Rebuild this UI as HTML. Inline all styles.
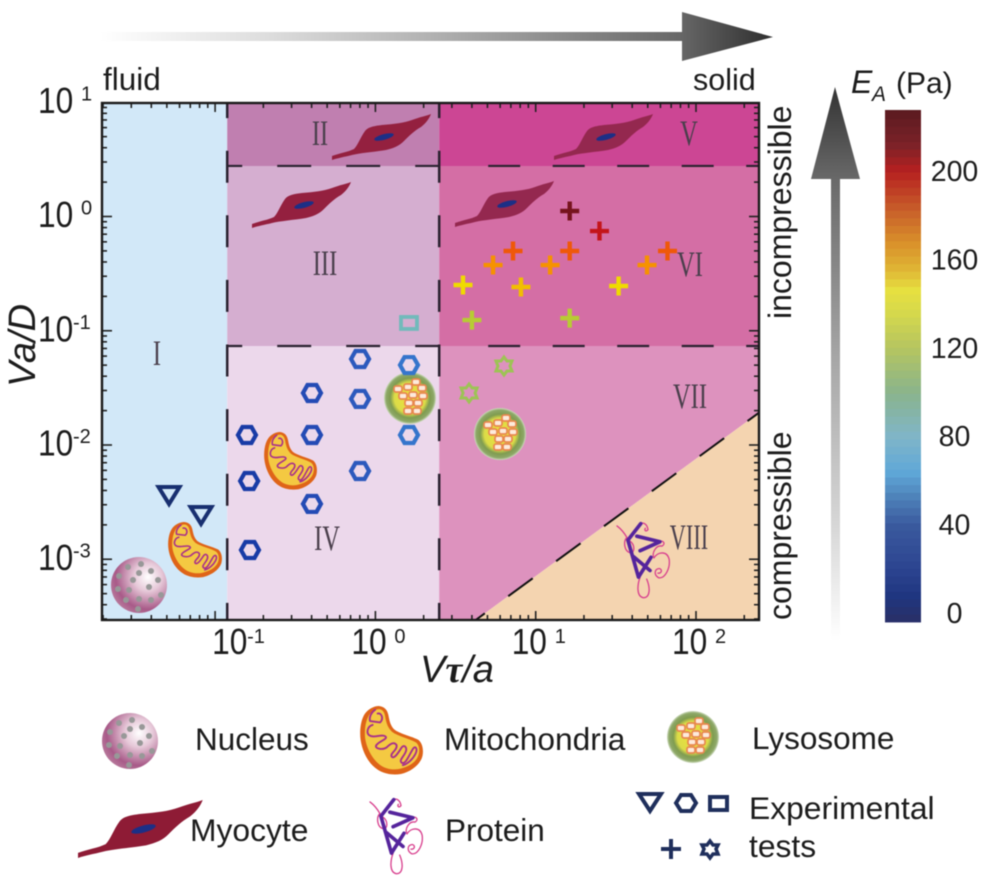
<!DOCTYPE html>
<html lang="en">
<head>
<meta charset="utf-8">
<title>Phase diagram of Va/D versus Vτ/a</title>
<style>
html,body{margin:0;padding:0;background:#fff;}
body{width:987px;height:883px;overflow:hidden;}
svg{display:block;filter:blur(.45px);}
text{font-family:"Liberation Sans",sans-serif;fill:#1c1c1c;}
.roman{font-family:"Liberation Serif",serif;font-size:36px;fill:#4a3f4c;text-anchor:middle;}
#markers{filter:saturate(1.45);}
</style>
</head>
<body>
<svg id="chart" xmlns="http://www.w3.org/2000/svg" width="987" height="883" viewBox="0 0 987 883">
<defs>
  <linearGradient id="grad-h" gradientUnits="userSpaceOnUse" x1="100" y1="0" x2="773" y2="0">
    <stop offset="0" stop-color="#fff"/><stop offset=".25" stop-color="#ddd"/><stop offset=".5" stop-color="#b0b0b0"/><stop offset=".86" stop-color="#686868"/><stop offset="1" stop-color="#2e2e2e"/>
  </linearGradient>
  <linearGradient id="grad-v" gradientUnits="userSpaceOnUse" x1="0" y1="87" x2="0" y2="640">
    <stop offset="0" stop-color="#333"/><stop offset=".17" stop-color="#6a6a6a"/><stop offset=".5" stop-color="#a8a8a8"/><stop offset=".8" stop-color="#d8d8d8"/><stop offset="1" stop-color="#fff"/>
  </linearGradient>
  <radialGradient id="grad-nuc" cx=".66" cy=".36" r=".72">
    <stop offset="0" stop-color="#fff"/><stop offset=".35" stop-color="#e6c8d8"/><stop offset=".8" stop-color="#a85a88"/><stop offset="1" stop-color="#b87a9c"/>
  </radialGradient>
  <radialGradient id="grad-lys" cx=".5" cy=".5" r=".5">
    <stop offset="0" stop-color="#eee23a"/><stop offset=".6" stop-color="#dcdc48"/><stop offset=".76" stop-color="#7f9c50"/><stop offset=".92" stop-color="#8ea868"/><stop offset="1" stop-color="#cfdcc0"/>
  </radialGradient>
  <g id="myocyte-shape">
    <path d="M0 46 L0 42 C8 39 16 38 22 35 C26 31 28 24 33 17 C36 13 42 12 50 11 C62 10 72 9 80 6 C88 3 94 2 99 0 C97 5 94 9 89 13 C82 17 77 22 72 27 C67 32 62 34 54 36 C42 38 28 39 20 41 C12 43 6 44 0 46 Z"/>
    <ellipse cx="52" cy="23" rx="10" ry="2.8" fill="#1c2f86" transform="rotate(-15 52 23)"/>
  </g>
  <g id="mito-shape">
    <path d="M30 0 C38 1 43 5 45 14 C47 24 48 30 54 37 C62 44 82 48 93 54 C100 60 101 72 99 80 C96 92 82 104 65 108 C52 110 38 108 28 101 C14 92 4 74 1 54 C-1 40 1 22 8 12 C13 5 22 0 30 0 Z" fill="#df6418"/>
    <path d="M31 5 C36 6 39 10 40 17 C42 28 44 34 51 41 C60 48 80 52 89 58 C95 63 95 73 92 80 C88 90 76 97 62 100 C50 102 38 99 30 92 C19 83 10 66 8 50 C7 36 9 24 14 15 C18 9 24 5 31 5 Z" fill="#f4c942"/>
    <path d="M24 6 C18 10 14 18 16 24 L32 26 C38 20 34 10 28 12 M20 30 C12 32 10 42 14 46 C22 52 34 44 40 48 C46 52 30 56 26 62 C22 68 36 70 42 66 C48 60 54 56 58 62 C60 70 48 74 50 80 C54 86 62 72 66 66 C70 60 76 66 72 74 C68 82 62 86 66 90 C72 94 78 78 84 68 C88 62 92 68 88 76 C84 84 76 92 68 94" fill="none" stroke="#a8308a" stroke-width="3" stroke-linejoin="round" stroke-linecap="round"/>
  </g>
  <g id="nucleus-shape">
    <circle cx="0" cy="0" r="28" fill="url(#grad-nuc)"/>
    <g fill="#989898">
      <circle cx="-11" cy="-18" r="3"/><circle cx="2" cy="-21" r="3"/><circle cx="-20" cy="-9" r="3"/><circle cx="0" cy="-12" r="3"/><circle cx="12" cy="-14" r="3"/><circle cx="19" cy="-5" r="3"/><circle cx="-6" cy="-5" r="3"/><circle cx="-21" cy="4" r="3"/><circle cx="-10" cy="5" r="3"/><circle cx="10" cy="2" r="3"/><circle cx="-13" cy="15" r="3"/><circle cx="0" cy="14" r="3"/><circle cx="12" cy="15" r="3"/><circle cx="22" cy="10" r="3"/><circle cx="-1" cy="24" r="3"/>
    </g>
  </g>
  <g id="lyso-shape">
    <circle cx="0" cy="0" r="26" fill="url(#grad-lys)"/>
    <g fill="#fdeadb" stroke="#e8874f" stroke-width="1.7">
      <rect x="-16" y="-12" width="8" height="6" rx="2"/><rect x="-11" y="-5" width="8" height="6" rx="2"/><rect x="-6" y="-14" width="8" height="6" rx="2"/><rect x="-1" y="-6" width="8" height="6" rx="2"/><rect x="2" y="-19" width="8" height="6" rx="2"/><rect x="8" y="-13" width="8" height="6" rx="2"/><rect x="9" y="-5" width="8" height="6" rx="2"/><rect x="-5" y="2" width="8" height="6" rx="2"/><rect x="4" y="2" width="8" height="6" rx="2"/><rect x="-6" y="10" width="8" height="6" rx="2"/><rect x="3" y="10" width="8" height="6" rx="2"/>
    </g>
  </g>
  <g id="protein-shape" fill="none" stroke-linecap="round" stroke-linejoin="round">
    <path d="M0 15 C12 24 22 36 30 50 C18 62 22 92 40 96 C54 98 56 72 38 60 M70 8 C84 2 92 14 94 26 C88 34 82 28 86 22 M130 62 C144 58 146 72 136 76 C118 72 104 98 112 112 C124 92 152 90 158 116 C162 142 146 176 126 172 C112 164 112 146 128 144 C138 146 136 160 124 158 M70 170 C62 192 58 226 78 232 C100 236 102 204 90 176" stroke="#d8408e" stroke-width="4"/>
    <path d="M72 8 L33 58 L65 170 L103 110 M60 46 L130 63 L70 90 M50 108 L100 150" stroke="#55249c" stroke-width="11"/>
  </g>
</defs>

<g id="top-arrow">
  <rect x="100" y="32" width="582" height="9" fill="url(#grad-h)"/>
  <polygon points="682,12 773,37 682,61" fill="url(#grad-h)"/>
</g>
<g id="side-arrow">
  <rect x="831" y="179" width="9" height="461" fill="url(#grad-v)"/>
  <polygon points="835,87 860,179 811,179" fill="url(#grad-v)"/>
</g>

<text x="103" y="90" font-size="31.5">fluid</text>
<text x="693" y="90" font-size="30.5">solid</text>
<text transform="translate(791,319) rotate(-90)" font-size="32">incompressible</text>
<text transform="translate(791,620) rotate(-90)" font-size="32">compressible</text>
<text transform="translate(35,387) rotate(-90)" font-size="38" font-style="italic">Va/D</text>
<text x="420" y="682" font-size="38" font-style="italic">V<tspan font-family="Liberation Serif,serif" font-weight="bold">τ</tspan>/a</text>

<g id="regions"></g>
<g id="ticks"></g>
<g id="boundaries"></g>

<g id="romans">
  <text class="roman" transform="translate(157,365) scale(.68,1)">I</text>
  <text class="roman" transform="translate(320,145) scale(.68,1)">II</text>
  <text class="roman" transform="translate(325,275) scale(.68,1)">III</text>
  <text class="roman" transform="translate(327,550) scale(.68,1)">IV</text>
  <text class="roman" transform="translate(689,145) scale(.68,1)">V</text>
  <text class="roman" transform="translate(690,276) scale(.68,1)">VI</text>
  <text class="roman" transform="translate(690,408) scale(.68,1)">VII</text>
  <text class="roman" transform="translate(689,549) scale(.62,1)">VIII</text>
</g>

<g id="plot-icons">
  <use href="#myocyte-shape" transform="translate(332,114)" fill="#94203f"/>
  <use href="#myocyte-shape" transform="translate(252,182)" fill="#94203f"/>
  <use href="#myocyte-shape" transform="translate(554,114)" fill="#94284f"/>
  <use href="#myocyte-shape" transform="translate(455,181)" fill="#94284f"/>
  <use href="#mito-shape" transform="translate(264,432) scale(.53)"/>
  <use href="#mito-shape" transform="translate(168,522) scale(.54,.51)"/>
  <use href="#nucleus-shape" transform="translate(139,585)"/>
  <use href="#lyso-shape" transform="translate(410,398)"/>
  <use href="#lyso-shape" transform="translate(500,434)"/>
  <use href="#protein-shape" transform="translate(617,521) scale(.33)"/>
</g>

<g id="markers"></g>
<g id="frame"></g>
<g id="tick-labels"></g>

<g id="colorbar"></g>
<text x="851" y="93" font-size="32" font-style="italic">E</text>
<text x="872" y="101" font-size="21" font-style="italic">A</text>
<text x="896" y="93" font-size="30">(Pa)</text>

<g id="legend">
  <use href="#nucleus-shape" transform="translate(130,741)"/>
  <text x="195" y="750" font-size="31.5">Nucleus</text>
  <use href="#mito-shape" transform="translate(360,706) scale(.63)"/>
  <text x="444" y="750" font-size="31.7">Mitochondria</text>
  <use href="#lyso-shape" transform="translate(693,737)"/>
  <text x="752" y="749" font-size="31.5">Lysosome</text>
  <use href="#myocyte-shape" transform="translate(78,800) scale(1.26)" fill="#8e1b35"/>
  <text x="190" y="841" font-size="31.8">Myocyte</text>
  <use href="#protein-shape" transform="translate(370,797) scale(.33)"/>
  <text x="445" y="841" font-size="31.5">Protein</text>
  <polygon points="639,794 661,794 650,811" fill="none" stroke="#1f2f5c" stroke-width="4"/>
  <polygon points="676,803 681,795 691,795 696,803 691,811 681,811" fill="none" stroke="#1f2f5c" stroke-width="4"/>
  <rect x="710" y="797" width="17" height="13" fill="none" stroke="#1f2f5c" stroke-width="4"/>
  <path d="M661 849H681M671 839V859" stroke="#1f2f5c" stroke-width="4" fill="none"/>
  <polygon points="710,841 713,845 718,845 716,849 718,854 713,854 710,858 707,854 702,854 704,849 702,845 707,845" fill="none" stroke="#1f2f5c" stroke-width="3.5"/>
  <text x="749" y="819" font-size="31.8">Experimental</text>
  <text x="749" y="857" font-size="31.8">tests</text>
</g>
</svg>

<script>
// ---- axis data ----
var xDecadeExponents = [-1, 0, 1, 2];
var yDecadeExponents = [1, 0, -1, -2, -3];
var colorbarTicks = [0, 40, 80, 120, 160, 200];
var minorMultipliers = [2, 3, 4, 5, 6, 7, 8, 9];

// ---- region boundaries (data coordinates) ----
var xFluidSolidBounds = [0.119, 2.5];
var yIncompressibleBounds = [2.77, 0.0735];
var compressibleLineX = [4.24, 245];
var compressibleLineY = [0.000295, 0.0190];

// ---- series: Vτ/a, Va/D, E_A (Pa) ----
var triangleX = [0.0516, 0.0817];
var triangleY = [0.00365, 0.00244];
var triangleE = [4, 4];

var hexagonX = [0.158, 0.163, 0.165, 0.402, 0.402, 0.402, 0.802, 0.802, 0.802, 1.62, 1.62];
var hexagonY = [0.01223, 0.00484, 0.001205, 0.0285, 0.01223, 0.00305, 0.0566, 0.0253, 0.00592, 0.0501, 0.01223];
var hexagonE = [12, 12, 12, 26, 26, 26, 38, 38, 38, 48, 48];

var squareX = [1.62];
var squareY = [0.117];
var squareE = [86];

var plusX = [16.3, 25.0, 7.22, 16.3, 66.4, 5.42, 12.3, 49.5, 3.52, 8.09, 32.9, 4.0, 16.3];
var plusY = [1.117, 0.746, 0.499, 0.499, 0.499, 0.376, 0.376, 0.376, 0.2515, 0.2415, 0.2464, 0.124, 0.129];
var plusE = [226, 206, 182, 182, 182, 166, 166, 166, 148, 154, 148, 122, 122];

var starX = [6.34, 3.84];
var starY = [0.0491, 0.0285];
var starE = [112, 112];

// ---- colour scale ----
var colorStopValues = [-4, 8, 20, 40, 52, 64, 80, 100, 120, 136, 146, 156, 168, 182, 200, 212, 228];
var colorStopHexes = ['#2a2f66', '#1f3680', '#2c4490', '#3a5a9e', '#4d80b8', '#5fa8d8', '#80b5c8', '#8ab48c', '#b5c560', '#d6d84c', '#e6e040', '#dfb434', '#d98f2a', '#c8602a', '#b62020', '#7c2228', '#5a1a20'];

// ---- axis functions ----
function xScale(v) { return 375.4 + 160.3 * Math.log10(v); }
function yScale(v) { return 216.5 - 114.25 * Math.log10(v); }
function eScale(e) { return 613 - 2.21 * e; }

var NS = 'http://www.w3.org/2000/svg';
var PLOT = { left: 102, right: 759, top: 103, bottom: 620 };

function make(tag, attrs, parent) {
  var n = document.createElementNS(NS, tag);
  for (var k in attrs) n.setAttribute(k, attrs[k]);
  parent.appendChild(n);
  return n;
}
function hexToRgb(h) {
  return [parseInt(h.substr(1, 2), 16), parseInt(h.substr(3, 2), 16), parseInt(h.substr(5, 2), 16)];
}
function colorFor(e) {
  var i = 0;
  while (i < colorStopValues.length - 2 && e > colorStopValues[i + 1]) i++;
  var t = (e - colorStopValues[i]) / (colorStopValues[i + 1] - colorStopValues[i]);
  t = Math.max(0, Math.min(1, t));
  var a = hexToRgb(colorStopHexes[i]), b = hexToRgb(colorStopHexes[i + 1]);
  return 'rgb(' + [0, 1, 2].map(function (j) { return Math.round(a[j] + (b[j] - a[j]) * t); }).join(',') + ')';
}

// ---- regions ----
(function () {
  var g = document.getElementById('regions');
  var xa = xScale(xFluidSolidBounds[0]), xb = xScale(xFluidSolidBounds[1]);
  var ya = yScale(yIncompressibleBounds[0]), yb = yScale(yIncompressibleBounds[1]);
  var L = PLOT.left, R = PLOT.right, T = PLOT.top, B = PLOT.bottom;
  var regionNames = ['region-i', 'region-ii', 'region-iii', 'region-iv', 'region-v', 'region-vi', 'region-vii', 'region-viii'];
  var regionFills = ['#d2e8f8', '#c07fb0', '#d5aed0', '#ecd8eb', '#cc4694', '#d46ea5', '#dd92be', '#f4d4b0'];
  var dx0 = xScale(compressibleLineX[0]), dy0 = yScale(compressibleLineY[0]);
  var dx1 = xScale(compressibleLineX[1]), dy1 = yScale(compressibleLineY[1]);
  var slope = (dy1 - dy0) / (dx1 - dx0);
  var yAtB = B, xAtB = dx0 + (B - dy0) / slope;
  var yAtR = dy0 + slope * (R - dx0);
  var polys = [
    [[L, T], [xa, T], [xa, B], [L, B]],
    [[xa, T], [xb, T], [xb, ya], [xa, ya]],
    [[xa, ya], [xb, ya], [xb, yb], [xa, yb]],
    [[xa, yb], [xb, yb], [xb, B], [xa, B]],
    [[xb, T], [R, T], [R, ya], [xb, ya]],
    [[xb, ya], [R, ya], [R, yb], [xb, yb]],
    [[xb, yb], [R, yb], [R, yAtR], [xAtB, yAtB], [xb, B]],
    [[xAtB, yAtB], [R, yAtR], [R, B]]
  ];
  polys.forEach(function (p, i) {
    var n = make('polygon', { points: p.map(function (q) { return q.join(','); }).join(' '), fill: regionFills[i] }, g);
    
    
  });

  // boundaries
  var bg = document.getElementById('boundaries');
  [xa, xb].forEach(function (x) {
    var n = make('line', { x1: x, x2: x, y1: T, y2: B, stroke: '#2a2230', 'stroke-width': 2.5, 'stroke-dasharray': '32 32.6', 'stroke-dashoffset': -47.7 }, bg);
    
    
  });
  [ya, yb].forEach(function (y) {
    var a = make('line', { x1: xa, x2: xb, y1: y, y2: y, stroke: '#2a2230', 'stroke-width': 2.2, 'stroke-dasharray': '34 35', 'stroke-dashoffset': 19 }, bg);
    
    
    var b = make('line', { x1: xb + 49, x2: R, y1: y, y2: y, stroke: '#2a2230', 'stroke-width': 2.2, 'stroke-dasharray': '32 32.5' }, bg);
    
    
  });
  var d = make('line', { x1: xAtB, y1: yAtB, x2: R, y2: yAtR, stroke: '#111', 'stroke-width': 2, 'stroke-dasharray': '30.3 29', 'stroke-dashoffset': 19 }, bg);
  
  
})();

// ---- ticks and frame ----
(function () {
  var g = document.getElementById('ticks');
  function tick(x1, y1, x2, y2, name) {
    var n = make('line', { x1: x1, y1: y1, x2: x2, y2: y2, stroke: '#222', 'stroke-width': 1.6 }, g);
    
    
  }
  var xs = [-2].concat(xDecadeExponents), ys = [-4].concat(yDecadeExponents);
  xs.forEach(function (e) {
    var major = xScale(Math.pow(10, e));
    if (major > PLOT.left) {
      tick(major, PLOT.bottom, major, PLOT.bottom - 9, 'x-major-tick');
      tick(major, PLOT.top, major, PLOT.top + 9, 'x-major-tick-top');
    }
    minorMultipliers.forEach(function (m) {
      var x = xScale(m * Math.pow(10, e));
      if (x > PLOT.left && x < PLOT.right) {
        tick(x, PLOT.bottom, x, PLOT.bottom - 5, 'x-minor-tick');
        tick(x, PLOT.top, x, PLOT.top + 5, 'x-minor-tick-top');
      }
    });
  });
  ys.forEach(function (e) {
    var major = yScale(Math.pow(10, e));
    if (major < PLOT.bottom && major > PLOT.top) {
      tick(PLOT.left, major, PLOT.left + 10, major, 'y-major-tick');
      tick(PLOT.right, major, PLOT.right - 10, major, 'y-major-tick-right');
    }
    minorMultipliers.forEach(function (m) {
      var y = yScale(m * Math.pow(10, e));
      if (y > PLOT.top && y < PLOT.bottom) {
        tick(PLOT.left, y, PLOT.left + 5, y, 'y-minor-tick');
        tick(PLOT.right, y, PLOT.right - 5, y, 'y-minor-tick-right');
      }
    });
  });

  var f = document.getElementById('frame');
  var box = make('rect', { x: PLOT.left, y: PLOT.top, width: PLOT.right - PLOT.left, height: PLOT.bottom - PLOT.top, fill: 'none', stroke: '#1a1a1a', 'stroke-width': 2.4 }, f);
  
  
})();

// ---- tick labels ----
(function () {
  var g = document.getElementById('tick-labels');
  function addLabel(x, baseY, supY, e, axis) {
    var a = make('text', { transform: 'translate(' + x + ',' + baseY + ') scale(.88,1)', 'font-size': 36 }, g);
    a.textContent = '10';
    
    
    var supX = e < 0 ? x + 35 : x + 43;
    var s = make('text', { x: supX, y: supY, 'font-size': 20 }, g);
    s.textContent = String(e);
    
    
  }
  xDecadeExponents.forEach(function (e) {
    var tx = xScale(Math.pow(10, e));
    addLabel(e < 0 ? tx - 3 : tx - 24, 654, 643, e, 'x');
  });
  yDecadeExponents.forEach(function (e) {
    var ty = yScale(Math.pow(10, e));
    addLabel(38, ty + 10.5, ty - 2, e, 'y');
  });
})();

// ---- markers ----
(function () {
  var g = document.getElementById('markers');
  function drawSeries(xs, ys, es, shape, name) {
    xs.forEach(function (v, i) {
      var cx = xScale(v), cy = yScale(ys[i]);
      var col = colorFor(es[i]);
      var n = shape(cx, cy, col);
      
      
    });
  }
  function polyAround(cx, cy, pts) {
    return pts.map(function (p) { return (cx + p[0]) + ',' + (cy + p[1]); }).join(' ');
  }
  drawSeries(triangleX, triangleY, triangleE, function (cx, cy) {
    return make('polygon', { points: polyAround(cx, cy, [[-10.5, -8], [10.5, -8], [0, 9]]), fill: 'none', stroke: '#1f2f5c', 'stroke-width': 4 }, g);
  }, 'triangle-marker');
  drawSeries(hexagonX, hexagonY, hexagonE, function (cx, cy, col) {
    return make('polygon', { points: polyAround(cx, cy, [[-9, 0], [-4.5, -8], [4.5, -8], [9, 0], [4.5, 8], [-4.5, 8]]), fill: 'none', stroke: col, 'stroke-width': 4.2 }, g);
  }, 'hexagon-marker');
  drawSeries(squareX, squareY, squareE, function (cx, cy, col) {
    return make('rect', { x: cx - 8, y: cy - 6, width: 16, height: 12, fill: 'none', stroke: col, 'stroke-width': 3.8 }, g);
  }, 'square-marker');
  drawSeries(plusX, plusY, plusE, function (cx, cy, col) {
    return make('path', { d: 'M' + (cx - 9.5) + ' ' + cy + 'H' + (cx + 9.5) + 'M' + cx + ' ' + (cy - 9.5) + 'V' + (cy + 9.5), fill: 'none', stroke: col, 'stroke-width': 4.4 }, g);
  }, 'plus-marker');
  drawSeries(starX, starY, starE, function (cx, cy, col) {
    return make('polygon', { points: polyAround(cx, cy, [[0, -9], [3, -5], [8, -5], [6, 0], [8, 5], [3, 5], [0, 9], [-3, 5], [-8, 5], [-6, 0], [-8, -5], [-3, -5]]), fill: 'none', stroke: col, 'stroke-width': 3 }, g);
  }, 'star-marker');
})();

// ---- colour bar ----
(function () {
  var g = document.getElementById('colorbar');
  var eMin = -4, eMax = 227.6, step = 3.45;
  for (var e = eMin; e < eMax; e += step) {
    var top = eScale(Math.min(e + step, eMax));
    var bot = eScale(e);
    var r = make('rect', { x: 885, y: top, width: 36, height: bot - top + 0.6, fill: colorFor(e + step / 2) }, g);
    
    
  }
  colorbarTicks.forEach(function (t) {
    var l = make('text', { x: 954.5, y: eScale(t) + 10, 'font-size': 28.5, 'text-anchor': 'middle' }, g);
    l.textContent = String(t);
    
    
  });
})();
</script>
</body>
</html>
